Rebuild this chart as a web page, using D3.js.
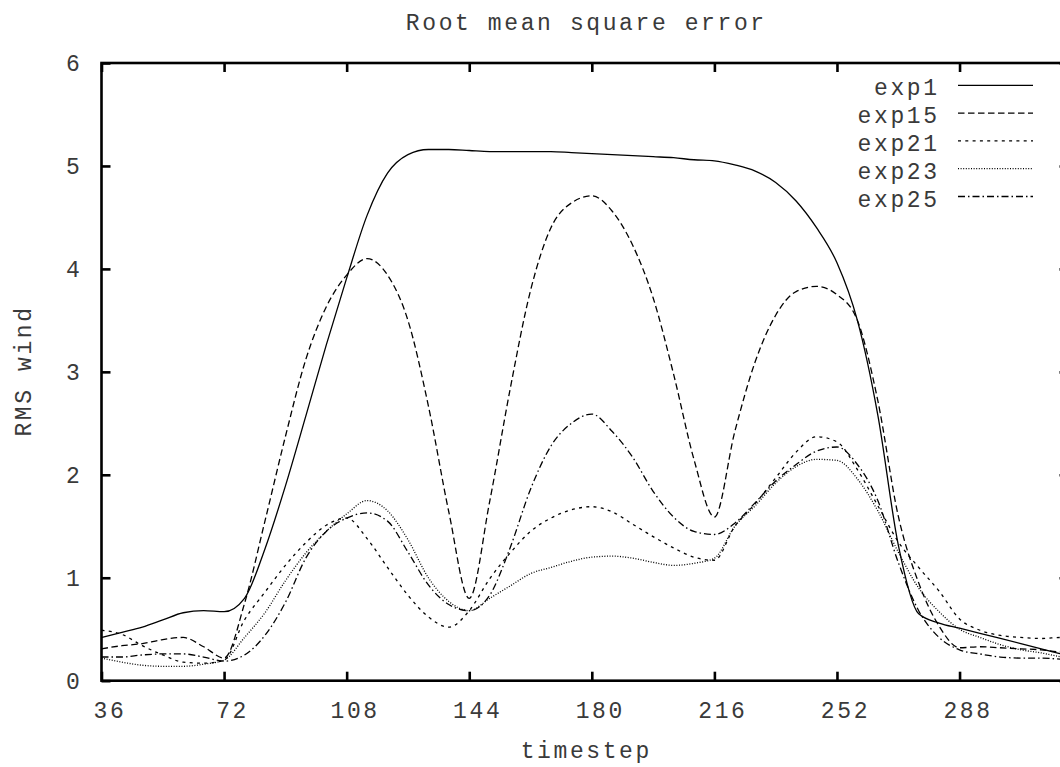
<!DOCTYPE html>
<html><head><meta charset="utf-8">
<script src="https://cdn.jsdelivr.net/npm/d3@7"></script>
<style>
html,body{margin:0;padding:0;background:#fff;}
svg{display:block;}
text{font-family:"Liberation Mono","DejaVu Sans Mono",monospace;fill:#3a3a3a;}
</style></head>
<body>
<svg id="chart" width="1060" height="767"></svg>
<script>
const timesteps = [36,42,48,54,60,66,72,78,84,90,96,102,108,114,120,126,132,138,144,150,156,162,168,174,180,186,192,198,204,210,216,222,228,234,240,246,252,258,264,270,276,282,288,294,300,306,312,318,320];
const exp1  = [0.42,0.47,0.52,0.59,0.66,0.68,0.67,0.80,1.28,1.89,2.57,3.26,3.91,4.52,4.93,5.11,5.16,5.16,5.15,5.14,5.14,5.14,5.14,5.13,5.12,5.11,5.10,5.09,5.08,5.06,5.05,5.01,4.95,4.84,4.66,4.40,4.06,3.50,2.58,1.32,0.65,0.56,0.51,0.46,0.41,0.36,0.31,0.26,0.25];
const exp15 = [0.31,0.34,0.36,0.40,0.42,0.33,0.22,0.75,1.55,2.37,3.12,3.63,3.94,4.10,3.94,3.50,2.67,1.64,0.80,1.74,2.83,3.79,4.40,4.64,4.71,4.56,4.23,3.72,2.98,2.15,1.59,2.42,3.10,3.55,3.78,3.83,3.75,3.50,2.72,1.60,0.95,0.53,0.32,0.33,0.32,0.31,0.30,0.28,0.28];
const exp21 = [0.49,0.45,0.34,0.25,0.18,0.17,0.20,0.59,0.86,1.12,1.34,1.51,1.58,1.38,1.10,0.83,0.62,0.52,0.68,0.99,1.24,1.45,1.58,1.66,1.69,1.64,1.52,1.40,1.29,1.20,1.17,1.50,1.72,1.97,2.22,2.37,2.32,2.05,1.70,1.35,1.10,0.87,0.60,0.49,0.44,0.42,0.41,0.42,0.42];
const exp23 = [0.22,0.18,0.15,0.14,0.14,0.16,0.20,0.42,0.66,0.97,1.24,1.45,1.62,1.75,1.65,1.37,1.00,0.77,0.68,0.80,0.92,1.04,1.10,1.16,1.20,1.21,1.19,1.15,1.12,1.14,1.19,1.50,1.70,1.92,2.08,2.15,2.14,1.96,1.65,1.25,0.90,0.67,0.50,0.42,0.35,0.30,0.27,0.23,0.22];
const exp25 = [0.23,0.23,0.25,0.26,0.26,0.23,0.19,0.25,0.44,0.76,1.19,1.45,1.58,1.63,1.55,1.25,0.93,0.74,0.68,0.83,1.29,1.86,2.28,2.50,2.59,2.42,2.17,1.84,1.59,1.45,1.42,1.53,1.73,1.94,2.10,2.23,2.27,2.10,1.75,1.15,0.68,0.42,0.30,0.26,0.23,0.22,0.22,0.21,0.21];
const seriesNames = ["exp1","exp15","exp21","exp23","exp25"];
const seriesValues = [exp1, exp15, exp21, exp23, exp25];
const dashes = [null, "6.5,3.5", "3,4.3", "1,1.6", "7,3,1.5,3"];
const xTicks = [36,72,108,144,180,216,252,288];
const yTicks = [0,1,2,3,4,5,6];
const titleText = "Root mean square error";
const xLabel = "timestep";
const yLabel = "RMS wind";

const L = 101.5, R = 1068.5, T = 63, B = 680.7;
const svg = d3.select("#chart");
const x = d3.scaleLinear().domain([36, 320]).range([L, R]);
const y = d3.scaleLinear().domain([0, 6]).range([B, T]);

const fs = 23, ls = 2.6;

// axes
const gB = svg.append("g").attr("transform", `translate(0,${B})`)
  .call(d3.axisBottom(x).tickValues(xTicks).tickSize(-9).tickSizeOuter(0));
gB.selectAll("text").attr("y", 37).attr("dy", 0).attr("dx", 8);
const gT = svg.append("g").attr("transform", `translate(0,${T})`)
  .call(d3.axisTop(x).tickValues(xTicks).tickSize(-9).tickSizeOuter(0).tickFormat(""));
const gLft = svg.append("g").attr("transform", `translate(${L},0)`)
  .call(d3.axisLeft(y).tickValues(yTicks).tickSize(-9).tickSizeOuter(0).tickFormat(d3.format("d")));
gLft.selectAll("text").attr("x", -19).attr("dy", 0).attr("y", 7.5);
const gR = svg.append("g").attr("transform", `translate(${R},0)`)
  .call(d3.axisRight(y).tickValues(yTicks).tickSize(-9).tickSizeOuter(0).tickFormat(""));
[gB,gT,gLft,gR].forEach(g => {
  g.select(".domain").remove();
  g.selectAll("line").attr("stroke", "#000").attr("stroke-width", 2.6);
  g.selectAll("text").attr("font-size", fs).attr("letter-spacing", ls)
    .attr("font-family", '"Liberation Mono","DejaVu Sans Mono",monospace').attr("fill", "#3a3a3a");
});
gLft.selectAll("text").attr("text-anchor", "end");

svg.append("rect").attr("x", L).attr("y", T).attr("width", R - L).attr("height", B - T)
  .attr("fill", "none").attr("stroke", "#000").attr("stroke-width", 2.6);

// lines
const line = d3.line().x((d, i) => x(timesteps[i])).y(d => y(d)).curve(d3.curveMonotoneX);
seriesValues.forEach((vals, k) => {
  svg.append("path").attr("d", line(vals)).attr("fill", "none").attr("stroke", "#000")
    .attr("stroke-width", 1.3).attr("stroke-dasharray", dashes[k]);
});

// legend
seriesNames.forEach((name, k) => {
  const ly = 85.3 + k * 27.8;
  svg.append("line").attr("x1", 958).attr("x2", 1033).attr("y1", ly).attr("y2", ly)
    .attr("stroke", "#000").attr("stroke-width", 1.3).attr("stroke-dasharray", dashes[k]);
  svg.append("text").attr("x", 937 + ls).attr("y", ly + 10).attr("text-anchor", "end")
    .attr("font-size", fs).attr("letter-spacing", ls).text(name);
});

// titles
svg.append("text").attr("x", 585 + ls / 2).attr("y", 30).attr("text-anchor", "middle")
  .attr("font-size", fs).attr("letter-spacing", ls).text(titleText);
svg.append("text").attr("x", 585 + ls / 2).attr("y", 758).attr("text-anchor", "middle")
  .attr("font-size", fs).attr("letter-spacing", ls).text(xLabel);
svg.append("text").attr("transform", "translate(31,371) rotate(-90)").attr("text-anchor", "middle")
  .attr("font-size", fs).attr("letter-spacing", ls).text(yLabel);
</script>
</body></html>
